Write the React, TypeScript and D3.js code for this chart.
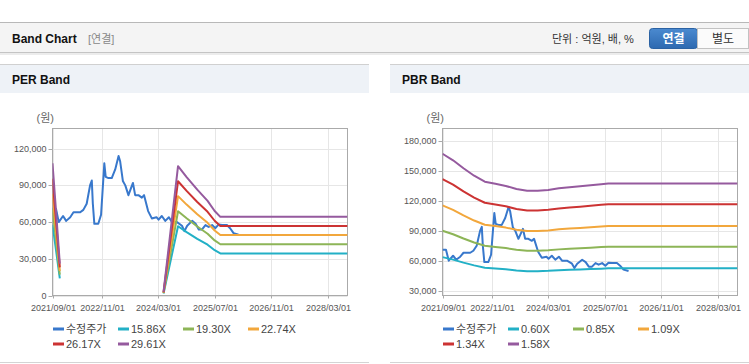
import React from 'react';
import * as d3 from 'd3';

// ---------- data ----------
const PRICE_DATES = [
  '2021-09-01','2021-10-01','2021-10-25','2021-12-01','2021-12-28','2022-02-01','2022-03-01','2022-04-28',
  '2022-05-25','2022-06-23','2022-07-22','2022-08-06','2022-08-15','2022-08-28','2022-10-01','2022-10-25',
  '2022-11-22','2022-12-04','2022-12-28','2023-01-25','2023-02-24','2023-03-25','2023-04-07','2023-05-01',
  '2023-05-22','2023-06-18','2023-07-27','2023-08-15','2023-09-12','2023-10-12','2023-10-31','2023-12-05',
  '2024-01-06','2024-02-15','2024-03-04','2024-04-01','2024-05-01','2024-06-01','2024-06-28','2024-08-10',
  '2024-09-22','2024-10-13','2024-11-06','2024-12-19','2025-01-18','2025-02-14','2025-03-14','2025-04-13',
  '2025-05-10','2025-06-09','2025-07-07','2025-08-03','2025-09-03','2025-10-15','2025-11-11','2025-12-11',
  '2026-01-23',
];
const PRICE_VALUES = [
  71000, 71000, 60000, 65000, 61000, 64000, 68000, 68000,
  70000, 75000, 90000, 94000, 75000, 58600, 58600, 66000,
  108000, 97000, 96000, 96000, 103000, 114000, 110000, 93600,
  90000, 82000, 92000, 82000, 82000, 80000, 82000, 69000,
  63000, 64000, 62000, 65000, 61000, 64000, 60000, 60000,
  57000, 52600, 57000, 61000, 58600, 54000, 54000, 57600,
  56000, 57600, 55000, 58000, 57600, 57600, 55000, 51000,
  49600,
];

const X_TICKS = ['2021-09-01', '2022-11-01', '2024-03-01', '2025-07-01', '2026-11-01', '2028-03-01'];
const X_START = '2021-09-01';
const X_END = '2028-08-20';

// PER band
const PER_LABELS = ['15.86X', '19.30X', '22.74X', '26.17X', '29.61X'];
const PER_DATES = ['2021-09-01','2021-10-01','2021-11-03','2022-06-01','2024-04-16','2024-08-19','2024-11-01','2025-02-01','2025-05-01','2025-07-01','2025-08-19','2028-08-20'];
const PER_1586 = [57900, 37300, 14000, null, 1600, 56600, 51800, 46300, 41500, 37000, 34400, 34400];
const PER_1930 = [70400, 45400, 17000, null, 1900, 68900, 63100, 56400, 50500, 45000, 41900, 41900];
const PER_2274 = [83000, 53400, 20000, null, 2300, 81200, 74300, 66400, 59400, 53100, 49400, 49400];
const PER_2617 = [95500, 61500, 23000, null, 2600, 93400, 85500, 76400, 68400, 61100, 56800, 56800];
const PER_2961 = [108100, 69600, 26100, null, 3000, 105700, 96800, 86500, 77400, 69100, 64300, 64300];
const PER_Y_DOMAIN = [0, 136500];
const PER_Y_TICKS = [0, 30000, 60000, 90000, 120000];

// PBR band
const PBR_LABELS = ['0.60X', '0.85X', '1.09X', '1.34X', '1.58X'];
const PBR_DATES = ['2021-09-01','2021-12-01','2022-03-01','2022-06-01','2022-09-01','2022-12-01','2023-03-01','2023-06-01','2023-09-01','2023-12-01','2024-03-01','2024-06-01','2024-09-01','2024-12-01','2025-03-01','2025-06-01','2025-08-01','2028-08-20'];
const PBR_060 = [63600, 61100, 58100, 55300, 53000, 52200, 51300, 50200, 49500, 49500, 49800, 50400, 50800, 51200, 51600, 52000, 52300, 52300];
const PBR_085 = [90200, 86600, 82300, 78300, 75000, 73900, 72700, 71100, 70100, 70100, 70600, 71400, 72000, 72500, 73100, 73700, 74000, 74000];
const PBR_109 = [115600, 111100, 105600, 100400, 96200, 94800, 93300, 91200, 89900, 89900, 90500, 91600, 92400, 93000, 93700, 94500, 94900, 94900];
const PBR_134 = [142100, 136500, 129800, 123400, 118300, 116500, 114700, 112100, 110500, 110500, 111300, 112600, 113600, 114300, 115200, 116200, 116700, 116700];
const PBR_158 = [167600, 161000, 153000, 145500, 139500, 137400, 135200, 132200, 130300, 130300, 131200, 132800, 133900, 134800, 135800, 137000, 137600, 137600];
const PBR_Y_DOMAIN = [25000, 193000];
const PBR_Y_TICKS = [30000, 60000, 90000, 120000, 150000, 180000];

const PRICE_LABEL = '수정주가';
const PRICE_COLOR = '#3878cc';
const BAND_COLORS = ['#22b0c6', '#8db557', '#f2a73c', '#cc3333', '#955a9e'];

const FONT = '"Liberation Sans", Arial, "Noto Sans CJK KR", sans-serif';

type Pt = { d: Date; v: number | null };

function BandPanel(props: {
  id: string;
  px: number; // panel left
  title: string;
  yDomain: number[];
  yTicks: number[];
  bandDates: string[];
  bands: (number | null)[][];
  labels: string[];
}) {
  const { id, px, title, yDomain, yTicks, bandDates, bands, labels } = props;
  const left = px + 52.5;
  const right = px + 347.5;
  const top = 128.5;
  const bottom = 295.5;

  const x = d3.scaleUtc().domain([new Date(X_START), new Date(X_END)]).range([left, right]);
  const y = d3.scaleLinear().domain(yDomain).range([bottom, top]);
  const line = d3
    .line<Pt>()
    .defined((p) => p.v != null)
    .x((p) => x(p.d))
    .y((p) => y(p.v as number));

  const pricePts: Pt[] = PRICE_DATES.map((s, i) => ({ d: new Date(s), v: PRICE_VALUES[i] }));
  const fmt = d3.format(',');
  const tf = d3.utcFormat('%Y/%m/%d');

  const legend = [{ label: PRICE_LABEL, color: PRICE_COLOR }].concat(
    labels.map((l, i) => ({ label: l, color: BAND_COLORS[i] }))
  );

  return (
    <g>
      {/* panel header */}
      <rect x={px} y={64} width={px === 0 ? 369 : 359} height={1} fill="#d0d0d0" />
      <rect x={px} y={65} width={px === 0 ? 369 : 359} height={28} fill="#eef2f7" />
      <text x={px + 12} y={80} fontSize={12} fontWeight="bold" fill="#111" dominantBaseline="central" fontFamily={FONT}>
        {title}
      </text>
      <rect x={px} y={362} width={px === 0 ? 369 : 359} height={1} fill="#d4d4d4" />

      <text x={left - 16} y={118} fontSize={11} fill="#666" dominantBaseline="central" fontFamily={FONT}>
        (원)
      </text>

      {/* grid */}
      {yTicks.map((t) => (
        <line key={'gy' + t} x1={left} x2={right} y1={Math.round(y(t)) + 0.5} y2={Math.round(y(t)) + 0.5} stroke="#e6e6e6" />
      ))}
      {X_TICKS.map((t) => (
        <line key={'gx' + t} x1={Math.round(x(new Date(t))) + 0.5} x2={Math.round(x(new Date(t))) + 0.5} y1={top} y2={bottom} stroke="#e6e6e6" />
      ))}

      {/* frame */}
      <rect x={left} y={top} width={right - left} height={bottom - top} fill="none" stroke="#aaaaaa" />

      {/* y ticks */}
      {yTicks.map((t) => (
        <g key={'ty' + t}>
          <line x1={left - 4} x2={left} y1={Math.round(y(t)) + 0.5} y2={Math.round(y(t)) + 0.5} stroke="#aaaaaa" />
          <text x={left - 6} y={y(t)} fontSize={9} fill="#555" textAnchor="end" dominantBaseline="central" fontFamily={FONT}>
            {fmt(t)}
          </text>
        </g>
      ))}
      {/* x ticks */}
      {X_TICKS.map((t) => {
        const xx = Math.round(x(new Date(t))) + 0.5;
        return (
          <g key={'tx' + t}>
            <line x1={xx} x2={xx} y1={bottom} y2={bottom + 3} stroke="#aaaaaa" />
            <text x={xx} y={307.5} fontSize={9} fill="#555" textAnchor="middle" dominantBaseline="central" fontFamily={FONT}>
              {tf(new Date(t))}
            </text>
          </g>
        );
      })}

      <clipPath id={'clip-' + id}>
        <rect x={left} y={top} width={right - left} height={bottom - top} />
      </clipPath>
      <g clipPath={`url(#clip-${id})`} fill="none" strokeWidth={2} strokeLinejoin="round">
        <path d={line(pricePts) || ''} stroke={PRICE_COLOR} />
        {bands.map((vals, bi) => {
          const pts: Pt[] = bandDates.map((s, i) => ({ d: new Date(s), v: vals[i] }));
          return <path key={'b' + bi} d={line(pts) || ''} stroke={BAND_COLORS[bi]} />;
        })}
      </g>

      {/* legend */}
      {legend.map((it, i) => {
        const col = i % 4;
        const row = Math.floor(i / 4);
        const lx = px + 53 + col * 65;
        const ly = 329 + row * 15;
        return (
          <g key={'lg' + i}>
            <rect x={lx} y={ly - 1.5} width={11} height={3} fill={it.color} />
            <text x={lx + 13} y={ly} fontSize={11} fill="#444" dominantBaseline="central" fontFamily={FONT}>
              {it.label}
            </text>
          </g>
        );
      })}
    </g>
  );
}

export default function App() {
  return (
    <div style={{ position: 'absolute', left: 0, top: 0 }}>
      <svg width={749} height={364} style={{ display: 'block', background: '#fff' }}>
        <defs>
          <linearGradient id="btnBlue" x1="0" y1="0" x2="0" y2="1">
            <stop offset="0" stopColor="#4b8ad0" />
            <stop offset="1" stopColor="#2d69b0" />
          </linearGradient>
        </defs>
        {/* top header */}
        <rect x={0} y={22} width={749} height={1} fill="#b8b8b8" />
        <rect x={0} y={23} width={749} height={29} fill="#f4f4f4" />
        <rect x={0} y={52} width={749} height={1} fill="#c4c4c4" />
        <rect x={0} y={53} width={749} height={2} fill="#ececec" />
        <text x={12} y={38.5} fontSize={12} fontWeight="bold" fill="#111" dominantBaseline="central" fontFamily={FONT}>
          Band Chart
        </text>
        <text x={88} y={38.5} fontSize={11} fill="#888" dominantBaseline="central" fontFamily={FONT}>
          [연결]
        </text>
        <text x={552} y={38.5} fontSize={11} fill="#333" dominantBaseline="central" fontFamily={FONT}>
          단위 : 억원, 배, %
        </text>
        <rect x={649.5} y={28.5} width={48} height={20} rx={3} fill="url(#btnBlue)" stroke="#2b62a3" />
        <text x={673.5} y={38.5} fontSize={12} fontWeight="bold" fill="#fff" textAnchor="middle" dominantBaseline="central" fontFamily={FONT}>
          연결
        </text>
        <rect x={697.5} y={28.5} width={51} height={20} fill="#fbfbfb" stroke="#c2c2c2" />
        <text x={723} y={38.5} fontSize={12} fill="#333" textAnchor="middle" dominantBaseline="central" fontFamily={FONT}>
          별도
        </text>

        <BandPanel
          id="per"
          px={0}
          title="PER Band"
          yDomain={PER_Y_DOMAIN}
          yTicks={PER_Y_TICKS}
          bandDates={PER_DATES}
          bands={[PER_1586, PER_1930, PER_2274, PER_2617, PER_2961]}
          labels={PER_LABELS}
        />
        <BandPanel
          id="pbr"
          px={390}
          title="PBR Band"
          yDomain={PBR_Y_DOMAIN}
          yTicks={PBR_Y_TICKS}
          bandDates={PBR_DATES}
          bands={[PBR_060, PBR_085, PBR_109, PBR_134, PBR_158]}
          labels={PBR_LABELS}
        />
      </svg>
    </div>
  );
}
